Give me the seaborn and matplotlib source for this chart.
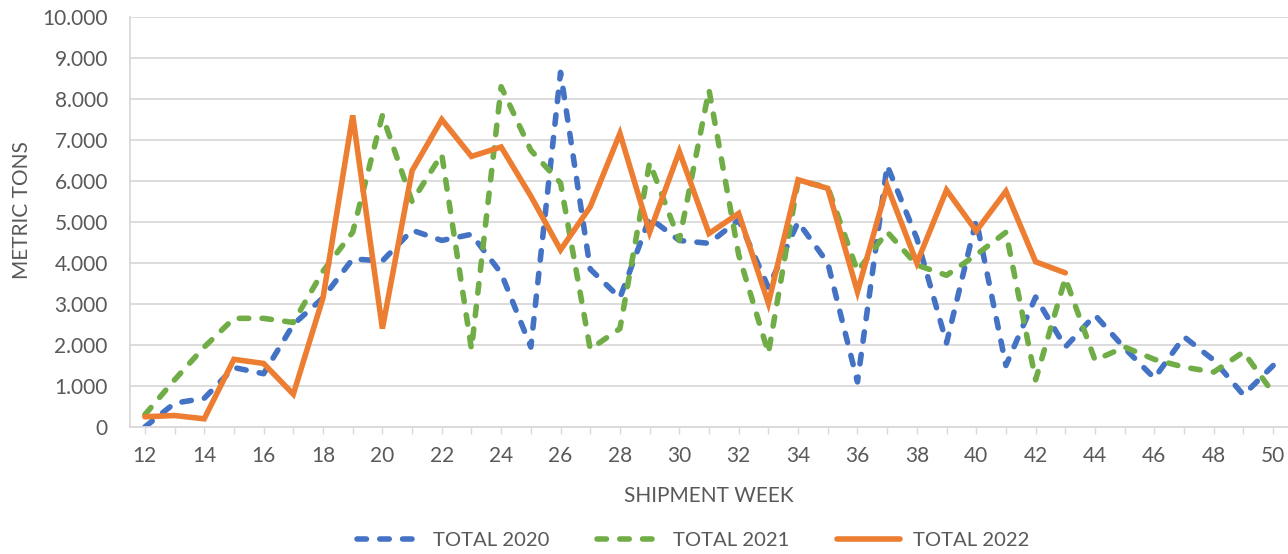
import numpy as np
import pandas as pd
import matplotlib
matplotlib.use('Agg')
import matplotlib.pyplot as plt
from matplotlib.lines import Line2D
from matplotlib.ticker import FuncFormatter
import seaborn as sns

# weekly shipments, metric tons
weeks = list(range(12, 51))
total_2020 = [0, 580, 700, 1450, 1300, 2500, 3150, 4100, 4050, 4800,
              4550, 4700, 3750, 1950, 8650, 3850, 3150, 5100, 4550, 4480,
              5050, 3400, 5000, 4000, 1100, 6380, 4600, 2050, 5050, 1500,
              3170, 1950, 2730, 1920, 1190, 2200, 1630, 780, 1500]
total_2021 = [300, 1150, 1950, 2650, 2650, 2550, 3800, 4750, 7600, 5500,
              6650, 1900, 8300, 6750, 5950, 1900, 2400, 6450, 4550, 8220,
              4200, 1800, 6000, 5850, 3800, 4760, 3950, 3700, 4200, 4750,
              1150, 3630, 1630, 1950, 1650, 1460, 1340, 1830, 830]
weeks_2022 = list(range(12, 44))
total_2022 = [250, 280, 200, 1650, 1550, 800, 3150, 7600, 2400, 6250,
              7500, 6600, 6830, 5630, 4320, 5370, 7160, 4750, 6720, 4720,
              5210, 3020, 6030, 5820, 3300, 5880, 4000, 5780, 4780, 5750,
              4030, 3760]

series = ['TOTAL 2020', 'TOTAL 2021', 'TOTAL 2022']
colors = {'TOTAL 2020': '#4472C4', 'TOTAL 2021': '#70AD47', 'TOTAL 2022': '#ED7D31'}
dash_seq = (1.7, 2.4)
dashes = {'TOTAL 2020': dash_seq, 'TOTAL 2021': dash_seq, 'TOTAL 2022': ''}
lw = 4.0

df = pd.concat([
    pd.DataFrame({'week': weeks, 'tons': total_2020, 'series': series[0]}),
    pd.DataFrame({'week': weeks, 'tons': total_2021, 'series': series[1]}),
    pd.DataFrame({'week': weeks_2022, 'tons': total_2022, 'series': series[2]}),
])

sns.set_theme(style='white')
plt.rcParams['font.family'] = ['Lato', 'DejaVu Sans']
text_color = '#595959'
grid_color = '#d9d9d9'

fig = plt.figure(figsize=(12.88, 5.54), dpi=100)
ax = fig.add_axes([130 / 1288, 1 - 427 / 554, 1158 / 1288, 410 / 554])

sns.lineplot(data=df, x='week', y='tons', hue='series', style='series',
             hue_order=series, style_order=series, palette=colors,
             dashes=dashes, linewidth=lw, legend=False, ax=ax)
for line in ax.lines:
    line.set_dash_capstyle('round')
    line.set_solid_capstyle('round')
    line.set_solid_joinstyle('miter')

ax.set_xlim(11.5, 50.5)
ax.set_ylim(0, 10000)
ax.set_yticks(np.arange(0, 10001, 1000))
ax.yaxis.set_major_formatter(FuncFormatter(lambda v, p: f"{v:,.0f}".replace(',', '.')))
ax.set_xticks(weeks)
ax.set_xticklabels([str(w) if w % 2 == 0 else '' for w in weeks])

ax.grid(axis='y', color=grid_color, linewidth=1.3)
ax.set_axisbelow(True)
for side in ['top', 'right']:
    ax.spines[side].set_visible(False)
for side in ['left', 'bottom']:
    ax.spines[side].set_color(grid_color)
    ax.spines[side].set_linewidth(1.3)

ax.tick_params(axis='x', length=5, width=1, color=grid_color, pad=9,
               labelsize=15, labelcolor=text_color, direction='out', bottom=True)
ax.tick_params(axis='y', length=0, pad=16, labelsize=15, labelcolor=text_color)

ax.set_xlabel('SHIPMENT WEEK', fontsize=15, color=text_color, labelpad=14)
ax.set_ylabel('METRIC TONS', fontsize=15, color=text_color)
ax.yaxis.set_label_coords(-0.085, 0.53)

# legend handles with the same look as the plotted lines
handles = []
for name in series:
    h = Line2D([0], [0], color=colors[name], linewidth=lw,
               solid_capstyle='round', dash_capstyle='round')
    if dashes[name]:
        h.set_dashes(dashes[name])
    handles.append(h)

fig.legend(handles=handles, labels=series, loc='center',
           bbox_to_anchor=(0.538, 0.024), ncol=3, frameon=False,
           fontsize=14.6, labelcolor=text_color, handlelength=3.1,
           handletextpad=0.65, columnspacing=2.35)

fig.savefig('out.png', dpi=100)
plt.close(fig)
